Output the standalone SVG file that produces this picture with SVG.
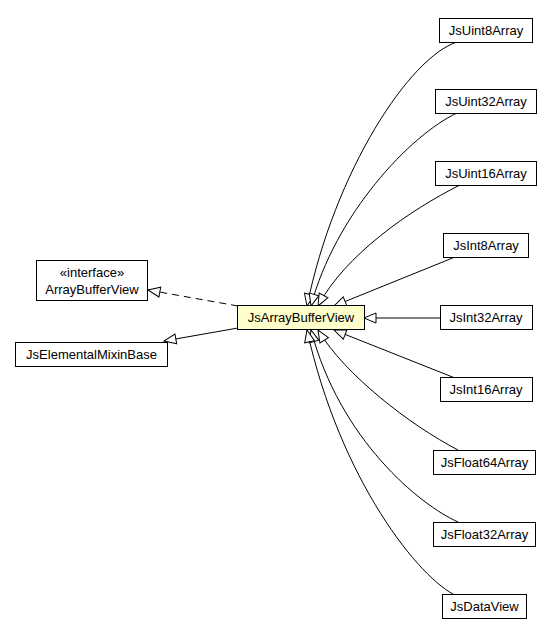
<svg xmlns="http://www.w3.org/2000/svg" width="556" height="635" viewBox="0 0 556 635">
<style>
.n rect{fill:#fff;stroke:#000;stroke-width:1}
.n.h rect{fill:#ffffcc}
text{font-family:"Liberation Sans",Arial,sans-serif;font-size:13px;fill:#000;text-anchor:middle}
.e path{fill:none;stroke:#000;stroke-width:1;marker-end:url(#tri)}
.e path.d{stroke-dasharray:7,5}
</style>
<defs>
<marker id="tri" viewBox="-1 -1 14 12" markerUnits="userSpaceOnUse" markerWidth="14" markerHeight="12" refX="12" refY="5" orient="auto" overflow="visible">
<path d="M0,0 L12,5 L0,10 Z" fill="#fff" stroke="#000" stroke-width="1" stroke-dasharray="none"/>
</marker>
</defs>
<rect width="556" height="635" fill="#fff"/>
<g class="e" id="connectors">
<path d="M457,42 C410,57 335,170 307,306"/>
<path d="M457,113 C410,135 335,215 311,306"/>
<path d="M460,185 C410,210 345,255 318,306"/>
<path d="M455,257 L334,306"/>
<path d="M440,318 L364,318"/>
<path d="M455,378 L334,330"/>
<path d="M458,450 C410,425 345,375 318,330"/>
<path d="M458,522 C420,505 340,440 311,330"/>
<path d="M457,596 C420,580 340,480 307,330"/>
<path class="d" d="M238,306 L148,290"/>
<path d="M238,328 L164,341"/>
</g>
<g class="n" id="JsUint8Array"><rect x="439.5" y="18.5" width="93" height="24"/><text x="486" y="35">JsUint8Array</text></g>
<g class="n" id="JsUint32Array"><rect x="435.5" y="89.5" width="101" height="24"/><text x="486" y="106">JsUint32Array</text></g>
<g class="n" id="JsUint16Array"><rect x="435.5" y="161.5" width="101" height="24"/><text x="486" y="178">JsUint16Array</text></g>
<g class="n" id="JsInt8Array"><rect x="443.5" y="233.5" width="85" height="24"/><text x="486" y="250">JsInt8Array</text></g>
<g class="n" id="JsInt32Array"><rect x="440.5" y="305.5" width="92" height="24"/><text x="486" y="322">JsInt32Array</text></g>
<g class="n" id="JsInt16Array"><rect x="440.5" y="377.5" width="92" height="24"/><text x="486" y="394">JsInt16Array</text></g>
<g class="n" id="JsFloat64Array"><rect x="433.5" y="450.5" width="102" height="24"/><text x="484.5" y="467">JsFloat64Array</text></g>
<g class="n" id="JsFloat32Array"><rect x="433.5" y="522.5" width="102" height="24"/><text x="484.5" y="539">JsFloat32Array</text></g>
<g class="n" id="JsDataView"><rect x="442.5" y="594.5" width="84" height="24"/><text x="484.5" y="611">JsDataView</text></g>
<g class="n h" id="JsArrayBufferView"><rect x="237.5" y="305.5" width="127" height="24"/><text x="301" y="322">JsArrayBufferView</text></g>
<g class="n" id="ArrayBufferView"><rect x="36.5" y="260.5" width="111" height="40"/><text x="92" y="277">«interface»</text><text x="92" y="294">ArrayBufferView</text></g>
<g class="n" id="JsElementalMixinBase"><rect x="15.5" y="342.5" width="152" height="24"/><text x="91.5" y="359">JsElementalMixinBase</text></g>
</svg>
